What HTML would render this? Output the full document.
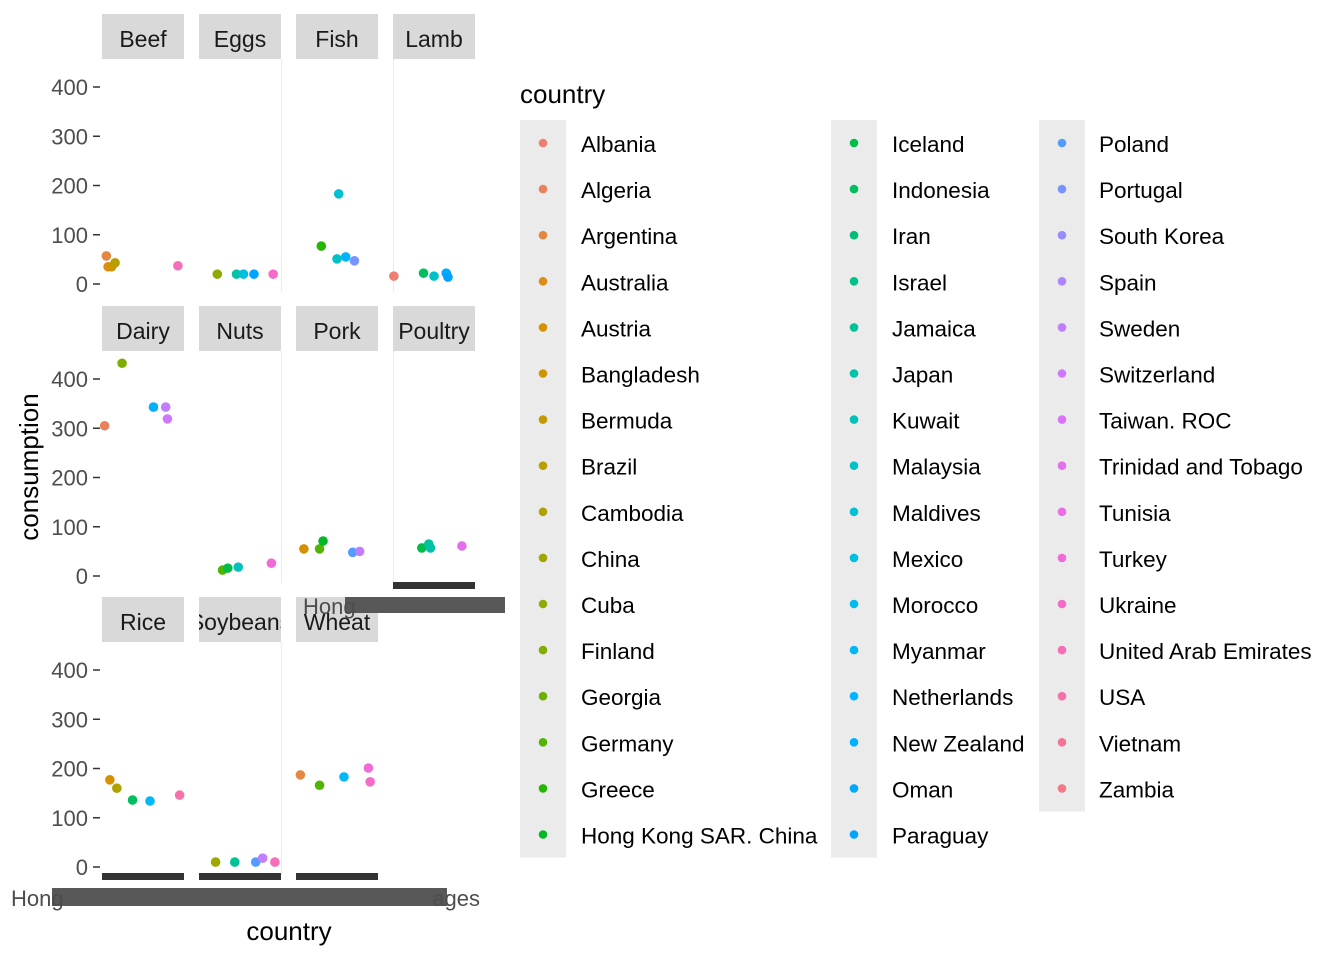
<!DOCTYPE html>
<html><head><meta charset="utf-8"><style>
body{margin:0;background:#fff}
svg{display:block;font-family:"Liberation Sans",Arial,sans-serif}
</style></head><body>
<svg id="chart" width="1344" height="960" viewBox="0 0 1344 960"></svg>
<script>
const countries=["Albania","Algeria","Argentina","Australia","Austria","Bangladesh","Bermuda","Brazil","Cambodia","China","Cuba","Finland","Georgia","Germany","Greece","Hong Kong SAR. China","Iceland","Indonesia","Iran","Israel","Jamaica","Japan","Kuwait","Malaysia","Maldives","Mexico","Morocco","Myanmar","Netherlands","New Zealand","Oman","Paraguay","Poland","Portugal","South Korea","Spain","Sweden","Switzerland","Taiwan. ROC","Trinidad and Tobago","Tunisia","Turkey","Ukraine","United Arab Emirates","USA","Vietnam","Zambia"];
const foods=["Beef","Eggs","Fish","Lamb","Dairy","Nuts","Pork","Poultry","Rice","Soybeans","Wheat"];
const yTicks=[0,100,200,300,400];
const beefIdx=[2,3,5,7,43], beefVal=[57,35,35,43,37];
const eggsIdx=[10,21,25,31,42], eggsVal=[20,20,20,20,20];
const fishIdx=[14,24,23,28,33], fishVal=[77,183,51,55,47];
const lambIdx=[0,17,23,30,31], lambVal=[16,22,16,22,14];
const dairyIdx=[1,11,29,36,37], dairyVal=[305,432,343,343,319];
const nutsIdx=[13,16,22,41], nutsVal=[12,16,18,26];
const porkIdx=[4,13,15,32,36], porkVal=[55,55,71,48,50];
const poultryIdx=[16,20,21,39], poultryVal=[57,65,57,61];
const riceIdx=[4,8,17,27,44], riceVal=[177,160,136,134,146];
const soyIdx=[9,20,32,36,43], soyVal=[10,10,10,18,10];
const wheatIdx=[2,13,27,41,42], wheatVal=[187,166,183,201,173];
const panelIdx=[beefIdx,eggsIdx,fishIdx,lambIdx,dairyIdx,nutsIdx,porkIdx,poultryIdx,riceIdx,soyIdx,wheatIdx];
const panelVal=[beefVal,eggsVal,fishVal,lambVal,dairyVal,nutsVal,porkVal,poultryVal,riceVal,soyVal,wheatVal];

const NS="http://www.w3.org/2000/svg";
const svg=document.getElementById('chart');
function mk(tag,attrs,parent){const e=document.createElementNS(NS,tag);for(const k in attrs)e.setAttribute(k,attrs[k]);(parent||svg).appendChild(e);return e;}
function hcl(h){const L=65,C=100,hr=h*Math.PI/180;const u=C*Math.cos(hr),v=C*Math.sin(hr);
 const Y=Math.pow((L+16)/116,3);const un=0.1978398,vn=0.4683363;const up=u/(13*L)+un,vp=v/(13*L)+vn;
 const X=Y*9*up/(4*vp),Z=Y*(12-3*up-20*vp)/(4*vp);const Xw=0.95047,Zw=1.08883;
 const x=X*Xw,z=Z*Zw;let r=3.2406*x-1.5372*Y-0.4986*z,g=-0.9689*x+1.8758*Y+0.0415*z,b=0.0557*x-0.2040*Y+1.0570*z;
 const gm=c=>{c=c<=0.0031308?12.92*c:1.055*Math.pow(c,1/2.4)-0.055;return Math.round(Math.max(0,Math.min(1,c))*255);};
 return `rgb(${gm(r)},${gm(g)},${gm(b)})`;}
const n=countries.length;
const colors=countries.map((c,i)=>hcl(15+360*i/n));
const colX=[102,199,296,393], PW=82;
const rowTop=[14,306,597];
const rowZero=[284,576,867];
const PXU=0.4925;
function xScale(col,i){return colX[col]+ (i+0.5)/n*PW;}
function yScale(row,v){return rowZero[row]-v*PXU;}
const defs=mk('defs',{});

// panels
foods.forEach((f,k)=>{
 const row=Math.floor(k/4),col=k%4;
 const g=mk('g',{});
 
 
 const cp=mk('clipPath',{id:'clip'+k},defs);
 mk('rect',{x:colX[col],y:rowTop[row],width:PW,height:45},cp);
 const s=mk('rect',{x:colX[col],y:rowTop[row],width:PW,height:45,fill:'#d9d9d9'},g);
 
 
 const t=mk('text',{x:colX[col]+PW/2,y:rowTop[row]+33,'font-size':23,fill:'#1a1a1a','text-anchor':'middle','clip-path':'url(#clip'+k+')'},g);
 t.textContent=f;
 
 
});
// faint vertical gridlines at panel edges
[[0,281],[0,393],[1,281],[1,393],[2,281]].forEach(([r,x])=>{
 const l=mk('line',{x1:x+0.5,x2:x+0.5,y1:rowTop[r]+45,y2:rowZero[r]+8,stroke:'#ebebeb','stroke-width':1});
 
 
});
// y axes
[0,1,2].forEach(r=>{
 yTicks.forEach(v=>{
  const y=yScale(r,v);
  const tl=mk('line',{x1:93,x2:100,y1:y,y2:y,stroke:'#333','stroke-width':1.5});
  
  
  const tx=mk('text',{x:88,y:y+8,'font-size':22,fill:'#4d4d4d','text-anchor':'end'});
  tx.textContent=v;
  
  
 });
});
// crowded x tick bars
[[393,582],[102,873],[199,873],[296,873]].forEach(([x,y])=>{
 const b=mk('rect',{x:x,y:y,width:PW,height:7,fill:'#333'});
 
 
});
// overlapped x labels
const b1=mk('rect',{x:345,y:597,width:160,height:16,fill:'#585858'});


const h1=mk('text',{x:303,y:614,'font-size':22,fill:'#4d4d4d'});h1.textContent='Hong';


const b2=mk('rect',{x:52,y:888,width:395,height:18,fill:'#585858'});


const h2=mk('text',{x:11,y:906,'font-size':22,fill:'#4d4d4d'});h2.textContent='Hong';


const h3=mk('text',{x:480,y:906,'font-size':22,fill:'#4d4d4d','text-anchor':'end'});h3.textContent='ages';


// points
foods.forEach((f,k)=>{
 const row=Math.floor(k/4),col=k%4;
 panelIdx[k].forEach((ci,j)=>{
  const c=mk('circle',{cx:xScale(col,ci),cy:yScale(row,panelVal[k][j]),r:4.8,fill:colors[ci]});
  
  
 });
});
// axis titles
const yt=mk('text',{x:0,y:0,'font-size':26,fill:'#000','text-anchor':'middle',transform:'translate(38,467) rotate(-90)'});
yt.textContent='consumption';


const xt=mk('text',{x:289,y:940,'font-size':26,fill:'#000','text-anchor':'middle'});
xt.textContent='country';


// legend
const lt=mk('text',{x:520,y:103,'font-size':26,fill:'#000'});
lt.textContent='country';


const legCols=[{kx:520,tx:581,start:0,cnt:16},{kx:831,tx:892,start:16,cnt:16},{kx:1039,tx:1099,start:32,cnt:15}];
legCols.forEach(lc=>{
 const bg=mk('rect',{x:lc.kx,y:120,width:46,height:lc.cnt*46.1,fill:'#ebebeb'});
 
 
 for(let i=0;i<lc.cnt;i++){
  const ci=lc.start+i,y=143+i*46.1;
  const d=mk('circle',{cx:lc.kx+23,cy:y,r:4.3,fill:colors[ci]});
  
  
  const t=mk('text',{x:lc.tx,y:y+9,'font-size':22.5,fill:'#000'});
  t.textContent=countries[ci];
  
  
 }
});
</script>
</body></html>
